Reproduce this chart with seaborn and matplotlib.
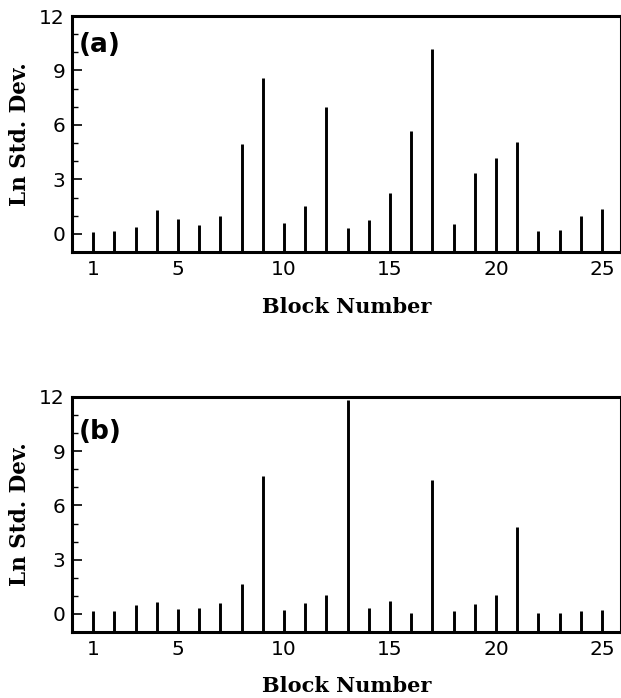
import numpy as np
import matplotlib
matplotlib.use("Agg")
import matplotlib.pyplot as plt
from matplotlib.ticker import MultipleLocator
import seaborn as sns

blocks = list(range(1, 26))
std_a = [0.10, 0.13, 0.38, 1.30, 0.80, 0.47, 1.00, 4.93, 8.60, 0.62, 1.52, 6.98, 0.31,
         0.76, 2.27, 5.69, 10.19, 0.56, 3.37, 4.20, 5.08, 0.13, 0.20, 0.96, 1.38]
std_b = [0.18, 0.18, 0.49, 0.67, 0.25, 0.31, 0.61, 1.68, 7.62, 0.20, 0.58, 1.06, 11.86,
         0.34, 0.69, 0.07, 7.40, 0.14, 0.54, 1.06, 4.82, 0.05, 0.04, 0.18, 0.22]
xtick_vals = [1, 5, 10, 15, 20, 25]
ytick_vals = [0, 3, 6, 9, 12]
panel_labels = ["(a)", "(b)"]

sns.set_style("ticks")
plt.rcParams['font.family'] = ['DejaVu Sans']
plt.rcParams['text.color'] = 'black'
plt.rcParams['axes.labelcolor'] = 'black'
plt.rcParams['xtick.color'] = 'black'
plt.rcParams['ytick.color'] = 'black'

fig = plt.figure(figsize=(6.21, 6.98), dpi=100)
W, H = 621, 698
def add_axes(left, top, right, bottom):
    return fig.add_axes([left / W, 1 - bottom / H, (right - left) / W, (bottom - top) / H])

ax_a = add_axes(72, 16, 621, 252)
ax_b = add_axes(72, 397, 621, 632)

tick_family = ['Liberation Sans Narrow', 'DejaVu Sans Condensed', 'DejaVu Sans']
label_font = dict(family=['DejaVu Serif'], weight='bold', color='black')

for ax, vals, lab, ly, xpad in [(ax_a, std_a, panel_labels[0], 0.877, 13),
                                (ax_b, std_b, panel_labels[1], 0.85, 12)]:
    ax.vlines(blocks, -1, vals, color='black', linewidth=2.1)
    ax.set_xlim(0, 25.9)
    ax.set_ylim(-1, 12)
    ax.set_xticks(xtick_vals)
    ax.set_yticks(ytick_vals)
    ax.yaxis.set_minor_locator(MultipleLocator(1))
    ax.tick_params(axis='y', which='major', direction='in', length=7, width=1.2, pad=5,
                   colors='black')
    ax.tick_params(axis='y', which='minor', direction='in', length=4, width=1.0, colors='black')
    ax.tick_params(axis='x', which='major', length=0, pad=6, colors='black')
    for t in ax.get_xticklabels() + ax.get_yticklabels():
        t.set_fontfamily(tick_family)
        t.set_fontsize(14.5)
    for s in ax.spines.values():
        s.set_visible(True)
        s.set_linewidth(2.2)
        s.set_color('black')
    ax.set_xlabel("Block Number", labelpad=xpad, fontsize=15, **label_font)
    ax.set_ylabel("Ln Std. Dev.", labelpad=6, fontsize=15.5, **label_font)
    ax.text(0.051, ly, lab, transform=ax.transAxes, ha='center', va='center',
            fontsize=19, fontweight='bold', family=['DejaVu Sans'], color='black')

fig.savefig("out.png", dpi=100)
